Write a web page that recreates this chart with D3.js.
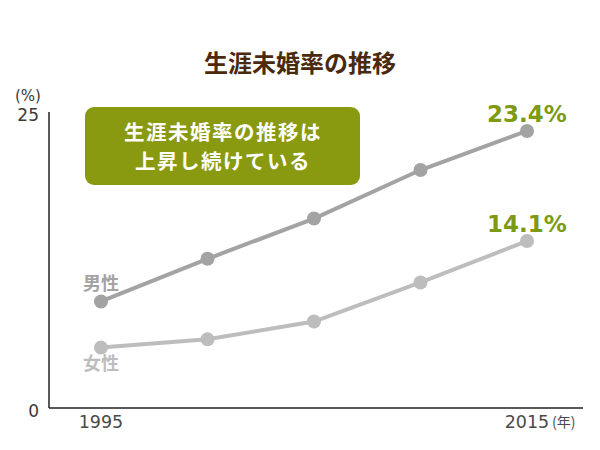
<!DOCTYPE html>
<html>
<head>
<meta charset="utf-8">
<script src="https://cdn.jsdelivr.net/npm/d3@7/dist/d3.min.js"></script>
<style>
  body { margin: 0; background: #fff; }
  text { font-family: "Noto Sans CJK JP", sans-serif; }
  .num { font-family: "DejaVu Sans", sans-serif; }
</style>
</head>
<body>
<script>
// 生涯未婚率 (%)
var years = [1995, 2000, 2005, 2010, 2015];
var male = [9.0, 12.6, 16.0, 20.1, 23.4];
var female = [5.1, 5.8, 7.3, 10.6, 14.1];
var yTicks = [0, 25];

var w = 600;
var h = 450;

var svg = d3.select("body")
    .append("svg")
    .attr("width", w)
    .attr("height", h);

var xScale = d3.scaleLinear()
    .domain([1995, 2015])
    .range([101, 527]);
var yScale = d3.scaleLinear()
    .domain([0, 25])
    .range([408, 112]);

// タイトル
svg.append("text")
    .attr("x", 300)
    .attr("y", 72)
    .attr("text-anchor", "middle")
    .attr("font-size", "24px")
    .attr("font-weight", "bold")
    .attr("fill", "#4a2a0e")
    .text("生涯未婚率の推移");

// 軸
svg.append("line")
    .attr("x1", 49).attr("x2", 49)
    .attr("y1", yScale(25)).attr("y2", yScale(0))
    .attr("stroke", "#222").attr("stroke-width", 1.5);
svg.append("line")
    .attr("x1", 49).attr("x2", 583)
    .attr("y1", yScale(0)).attr("y2", yScale(0))
    .attr("stroke", "#222").attr("stroke-width", 1.5);

svg.selectAll(".ytick")
    .data(yTicks)
    .enter()
    .append("text")
    .attr("class", "ytick num")
    .attr("x", 39)
    .attr("y", function (d) { return yScale(d) + 9; })
    .attr("text-anchor", "end")
    .attr("font-size", "17px")
    .attr("fill", "#3a3a3a")
    .text(function (d) { return d; });

svg.append("text")
    .attr("class", "num")
    .attr("x", 28)
    .attr("y", 101)
    .attr("text-anchor", "middle")
    .attr("font-size", "15px")
    .attr("fill", "#3a3a3a")
    .text("(%)");

var xLabels = [years[0], years[years.length - 1]];
svg.selectAll(".xtick")
    .data(xLabels)
    .enter()
    .append("text")
    .attr("class", "xtick num")
    .attr("x", function (d) { return xScale(d); })
    .attr("y", 428)
    .attr("text-anchor", "middle")
    .attr("font-size", "17.5px")
    .attr("fill", "#4a4a4a")
    .text(function (d) { return d; });
svg.append("text")
    .attr("x", xScale(2015) + 25)
    .attr("y", 427)
    .attr("font-size", "14px")
    .attr("fill", "#4a4a4a")
    .text("(年)");

// 吹き出し
svg.append("rect")
    .attr("x", 85).attr("y", 107)
    .attr("width", 275).attr("height", 78)
    .attr("rx", 9)
    .attr("fill", "#8a9a10");
svg.selectAll(".box")
    .data(["生涯未婚率の推移は", "上昇し続けている"])
    .enter()
    .append("text")
    .attr("class", "box")
    .attr("x", 223)
    .attr("y", function (d, i) { return 140 + i * 29; })
    .attr("text-anchor", "middle")
    .attr("font-size", "20.5px")
    .attr("letter-spacing", "1.5px")
    .attr("font-weight", "bold")
    .attr("fill", "#fff")
    .text(function (d) { return d; });

// 折れ線
var series = [
    { name: "男性", values: male, color: "#a3a3a3", labelDy: -11 },
    { name: "女性", values: female, color: "#bdbdbd", labelDy: 22 }
];

var line = d3.line()
    .x(function (d, i) { return xScale(years[i]); })
    .y(function (d) { return yScale(d); });

series.forEach(function (s) {
    svg.append("path")
        .datum(s.values)
        .attr("d", line)
        .attr("fill", "none")
        .attr("stroke", s.color)
        .attr("stroke-width", 4);

    svg.selectAll(null)
        .data(s.values)
        .enter()
        .append("circle")
        .attr("cx", function (d, i) { return xScale(years[i]); })
        .attr("cy", function (d) { return yScale(d); })
        .attr("r", 7)
        .attr("fill", s.color);

    svg.append("text")
        .attr("x", xScale(years[0]))
        .attr("y", yScale(s.values[0]) + s.labelDy)
        .attr("text-anchor", "middle")
        .attr("font-size", "18px")
        .attr("font-weight", "bold")
        .attr("fill", s.color)
        .text(s.name);

    var last = s.values[s.values.length - 1];
    svg.append("text")
        .attr("class", "num")
        .attr("x", xScale(years[years.length - 1]))
        .attr("y", yScale(last) - 9)
        .attr("text-anchor", "middle")
        .attr("font-size", "23px")
        .attr("font-weight", "bold")
        .attr("fill", "#7d9a12")
        .text(last.toFixed(1) + "%");
});
</script>
</body>
</html>
